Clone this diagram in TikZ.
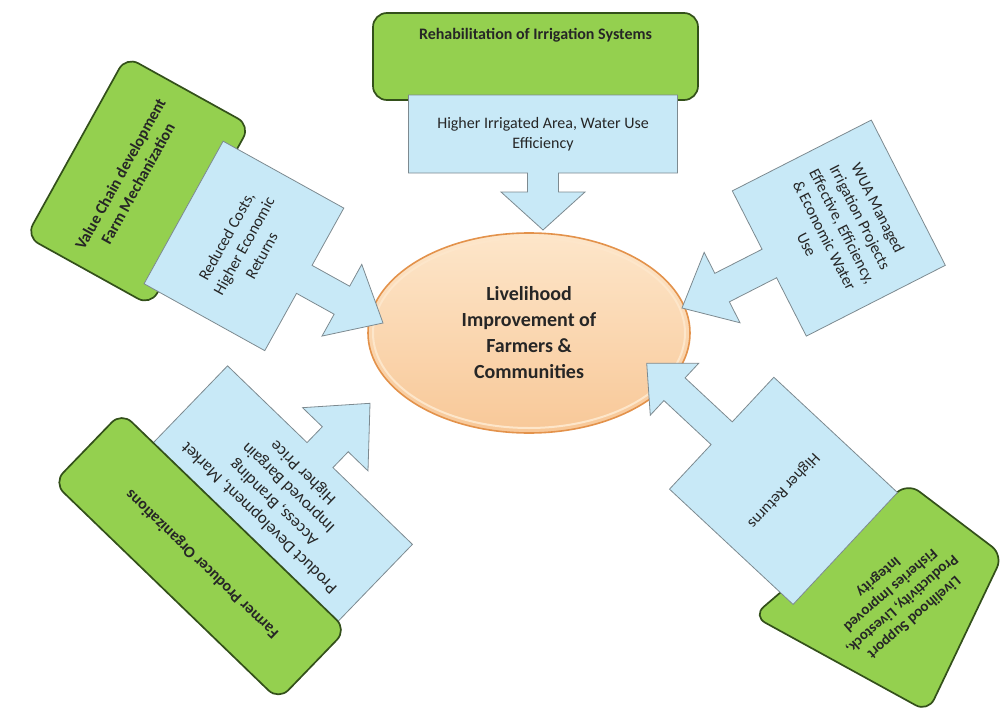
\documentclass[tikz,border=0pt]{standalone}
\usepackage{fontspec}
\setmainfont{Carlito}
\usepackage{tikz}
\usetikzlibrary{shapes.geometric}

\definecolor{leafgreen}{HTML}{94D04F}
\definecolor{leafedge}{HTML}{33501A}
\definecolor{skyblue}{HTML}{C8E9F7}
\definecolor{skyedge}{HTML}{7D8A90}
\definecolor{peach}{HTML}{F8C898}
\definecolor{peachlight}{HTML}{FDE6CA}
\definecolor{peachedge}{HTML}{E3924B}
\definecolor{inkgray}{HTML}{262626}

% arrow callout, tip at (0,0), pointing along +x
% #1 head length, #2 head half width, #3 stem length, #4 stem half width, #5 box length, #6 box half width
\newcommand{\calloutarrow}[6]{%
\draw[callout] (0,0) -- (-#1,#2) -- (-#1,#4) -- ({-#1-#3},#4) -- ({-#1-#3},#6) -- ({-#1-#3-#5},#6) -- ({-#1-#3-#5},-#6) -- ({-#1-#3},-#6) -- ({-#1-#3},-#4) -- (-#1,-#4) -- (-#1,-#2) -- cycle;}

\tikzset{
  greenbox/.style={draw=leafedge, line width=1.7pt, fill=leafgreen, rounded corners=14pt, inner sep=0pt},
  greentext/.style={font=\fontsize{16}{20}\selectfont\bfseries, align=center, text=inkgray},
  callout/.style={draw=skyedge, line width=0.8pt, fill=skyblue, line join=miter},
  bluetext/.style={font=\fontsize{16}{20}\selectfont, align=center, text=inkgray},
  hubnode/.style={ellipse, draw=peachedge, line width=1.6pt, top color=peachlight, bottom color=peach,
    minimum width=322pt, minimum height=200pt, inner sep=0pt, font=\fontsize{20}{26}\selectfont\bfseries, align=center, text=inkgray}
}

\begin{document}
\begin{tikzpicture}[x=1pt,y=1pt,yscale=-1]
\useasboundingbox (0,0) rectangle (1001,709);

% centre
\node[hubnode] (hub) at (529,333) {Livelihood\\Improvement of\\Farmers \&\\Communities};
\draw[peachlight, line width=2pt] (hub.center) ellipse [x radius=156, y radius=95];

% top arm
\begin{scope}[shift={(543,230)}, rotate=90]
\node[greenbox, minimum width=325pt, minimum height=87pt] (rehab) at (-173.5,7.5) {};
\node[greentext] at (-195,7.5) {Rehabilitation of Irrigation Systems};
\calloutarrow{38}{42}{19}{15.5}{78}{134.5}
\node[bluetext] (irrarea) at (-96,0) {Higher Irrigated Area, Water Use\\Efficiency};
\end{scope}

% upper left arm
\begin{scope}[shift={(383,323)}, rotate=29]
\node[greenbox, minimum width=206pt, minimum height=142pt, rotate=61] (valuechain) at (-283,-5.5) {};
\node[greentext, rotate=61] at (-292,-3) {Value Chain development\\Farm Mechanization};
\calloutarrow{47}{41}{43}{16}{138}{81.5}
\node[bluetext, rotate=61] (costs) at (-159,0) {Reduced Costs,\\Higher Economic\\Returns};
\end{scope}

% right arm
\begin{scope}[shift={(682,308)}, rotate=153]
\calloutarrow{45}{39.5}{53}{16}{156}{81.5}
\node[bluetext, rotate=-63] (wua) at (-180,0) {WUA Managed\\Irrigation Projects\\Effective, Efficiency,\\\& Economic Water\\Use};
\end{scope}

% lower left arm
\begin{scope}[shift={(370,403.3)}, rotate=-46]
\calloutarrow{50}{45.5}{22}{18}{111}{128.5}
\node[bluetext, font=\fontsize{17}{21}\selectfont, rotate=136] (market) at (-127.5,0) {Product Development, Market\\Access, Branding\\Improved Bargain\\Higher Price};
\node[greenbox, minimum width=313pt, minimum height=98pt, rotate=136] (fpo) at (-228,-16) {};
\node[greentext, rotate=136] at (-232,-9) {Farmer Producer Organizations};
\end{scope}

% lower right arm
\draw[greenbox] (908,483) -- (1003,555) -- (928,712) -- (753,616) -- cycle;
\node[greentext, font=\fontsize{15}{18}\selectfont\bfseries, rotate=221] (livesupport) at (896,597) {Livelihood Support\\Productivity, Livestock,\\Fisheries Improved\\Integrity};
\begin{scope}[shift={(646.7,363.3)}, rotate=-137]
\calloutarrow{38}{35.5}{64.5}{15.5}{169}{76.5}
\node[bluetext, rotate=227] (returns) at (-187,0) {Higher Returns};
\end{scope}

\end{tikzpicture}
\end{document}
